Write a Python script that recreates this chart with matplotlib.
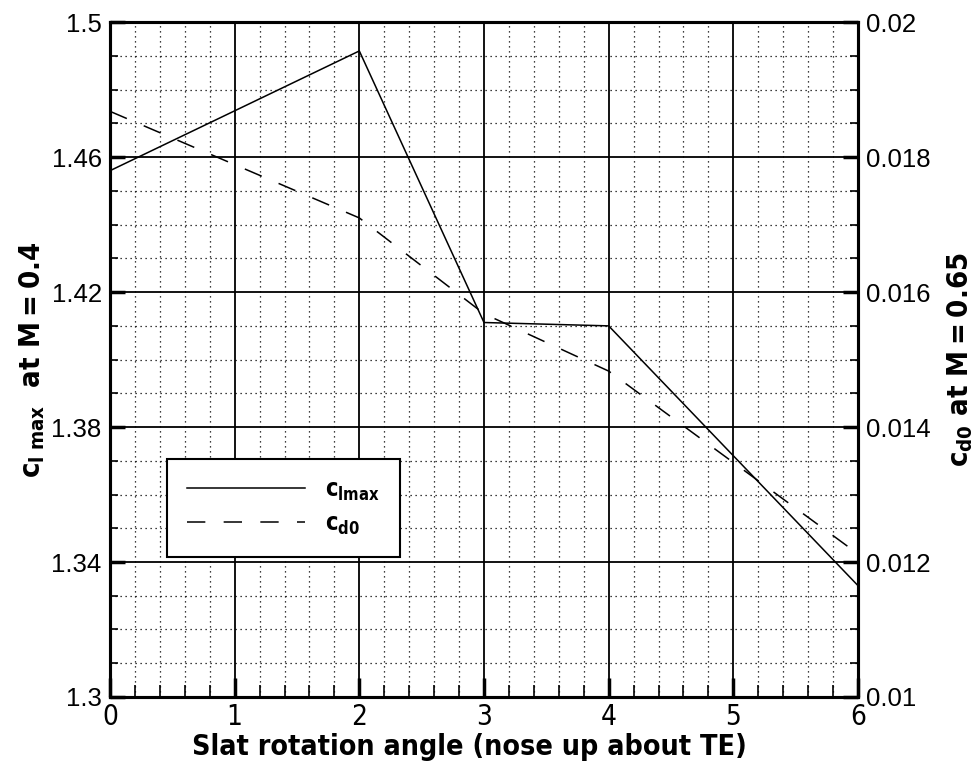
import matplotlib
matplotlib.use("Agg")
import matplotlib.pyplot as plt
from matplotlib.ticker import MultipleLocator

# data
angle = [0, 2, 3, 4, 6]
cl_max = [1.456, 1.4915, 1.4110, 1.4100, 1.3330]
cd0 = [0.01868, 0.01710, 0.01568, 0.01483, 0.01212]

plt.rcParams['font.family'] = ['Liberation Sans', 'DejaVu Sans']
plt.rcParams['mathtext.fontset'] = 'custom'
plt.rcParams['mathtext.rm'] = 'DejaVu Sans:weight=bold:stretch=condensed'
plt.rcParams['mathtext.it'] = 'DejaVu Sans:weight=bold:stretch=condensed'
plt.rcParams['mathtext.bf'] = 'DejaVu Sans:weight=bold:stretch=condensed'

fig = plt.figure(figsize=(9.75, 7.68), dpi=100)
ax = fig.add_axes([0.1128, 0.0925, 0.7672, 0.8785])
ax2 = ax.twinx()

ax.plot(angle, cl_max, color='black', lw=1.1, label=r'$\mathrm{c_{lmax}}$')
ax2.plot(angle, cd0, color='black', lw=1.1, dashes=(12, 12), label=r'$\mathrm{c_{d0}}$')

ax.set_xlim(0, 6)
ax.set_ylim(1.3, 1.5)
ax2.set_ylim(0.01, 0.02)

ax.xaxis.set_major_locator(MultipleLocator(1))
ax.xaxis.set_minor_locator(MultipleLocator(0.2))
ax.yaxis.set_minor_locator(MultipleLocator(0.01))
ax2.yaxis.set_minor_locator(MultipleLocator(0.0005))

ax.set_yticks([1.3, 1.34, 1.38, 1.42, 1.46, 1.5])
ax.set_yticklabels(['1.3', '1.34', '1.38', '1.42', '1.46', '1.5'])
ax2.set_yticks([0.01, 0.012, 0.014, 0.016, 0.018, 0.02])
ax2.set_yticklabels(['0.01', '0.012', '0.014', '0.016', '0.018', '0.02'])

ax.grid(which='major', color='black', lw=1.3, ls='-')
ax.grid(which='minor', color='black', lw=0.9, ls=(0, (1, 3)))
ax.set_axisbelow(True)

for a in (ax, ax2):
    for s in a.spines.values():
        s.set_linewidth(2.2)
    a.tick_params(which='major', direction='in', length=11, width=2.5, labelsize=18.5, pad=6)
    a.tick_params(which='minor', direction='in', length=6, width=1.2)
ax.tick_params(axis='x', which='major', length=14, pad=4)
ax.tick_params(axis='x', which='minor', length=9)
for lab in ax.get_xticklabels():
    lab.set_family('DejaVu Sans')
    lab.set_stretch('condensed')
    lab.set_fontsize(20)

ax.set_xlabel('Slat rotation angle (nose up about TE)', family='DejaVu Sans',
              fontstretch='condensed', fontweight='bold', fontsize=20.5, labelpad=0)
ax.xaxis.set_label_coords(0.481, -0.053)
ax.xaxis.label.set_va('top')
ax.set_ylabel(r'$\mathrm{c_{l\ max}\ \ at\ M=0.4}$', fontsize=21, labelpad=3)
ax2.set_ylabel(r'$\mathrm{c_{d0}\ at\ M=0.65}$', fontsize=21, labelpad=10)

h1, l1 = ax.get_legend_handles_labels()
h2, l2 = ax2.get_legend_handles_labels()
leg = ax2.legend(h1 + h2, l1 + l2, loc='center', bbox_to_anchor=(0.232, 0.28),
                 bbox_transform=ax.transAxes,
                 fontsize=17, handlelength=5.0, fancybox=False, framealpha=1,
                 edgecolor='black', borderpad=0.85, labelspacing=0.45, handletextpad=0.85,
                 borderaxespad=0)
leg.get_frame().set_linewidth(1.5)

fig.savefig('out.png', dpi=100)
